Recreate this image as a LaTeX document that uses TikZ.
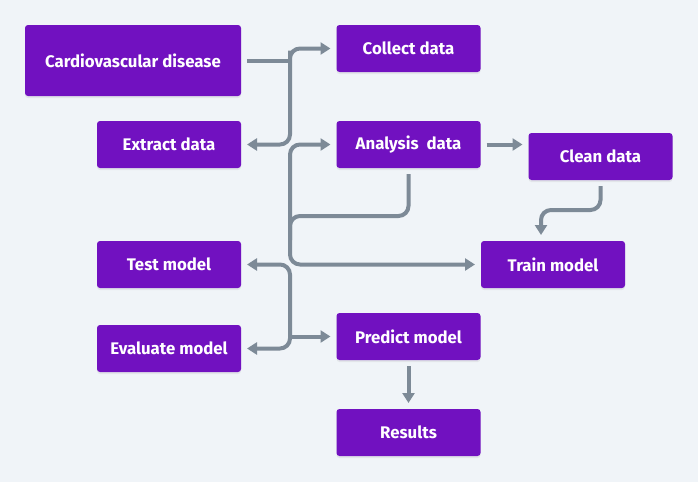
\documentclass[tikz,border=0pt]{standalone}
\usepackage{fontspec}
\setmainfont{Fira Sans}
\usetikzlibrary{arrows.meta,shadows}
\definecolor{bg}{HTML}{F0F4F8}
\definecolor{boxfill}{HTML}{7111C0}
\definecolor{linegray}{HTML}{7D8A97}

\begin{document}
\begin{tikzpicture}[x=1pt,y=-1pt,>={Triangle[length=10pt,width=12pt]},
	box/.style={fill=boxfill,rounded corners=3pt,inner sep=0,outer sep=0,minimum width=144pt,minimum height=47pt,text=white,font=\bfseries\fontsize{16.8}{20}\selectfont,drop shadow={opacity=0.12,shadow xshift=0pt,shadow yshift=-2pt}},
	conn/.style={draw=linegray,line width=4pt,rounded corners=10pt}]
	\fill[bg] (0,0) rectangle (698,482);
	% boxes
	\node[box,minimum width=216pt,minimum height=71pt] (cvd) at (133,60.5) {Cardiovascular disease};
	\node[box] (collect) at (408.5,48.5) {Collect data};
	\node[box] (extract) at (169,144.5) {Extract data};
	\node[box] (analysis) at (408.5,144.5) {Analysis~ data};
	\node[box] (clean) at (600.5,156.5) {Clean data};
	\node[box] (test) at (169,264.5) {Test model};
	\node[box] (train) at (553,264.5) {Train model};
	\node[box] (evaluate) at (169,348.5) {Evaluate model};
	\node[box] (predict) at (408.5,336.5) {Predict model};
	\node[box] (results) at (408.5,432.5) {Results};
	% junctions on the trunk
	\coordinate (j1) at (290,60.5);
	\coordinate (j2) at (290,216);
	\coordinate (j3) at (290,264.5);
	\coordinate (j4) at (290,240);
	\coordinate (j5) at (290,300);
	\coordinate (j6) at (290,336.5);
	\coordinate (k1) at (541,210);
	% connectors
	\draw[conn,shorten <=6pt] (cvd) -- (j1);
	\draw[conn,<->,shorten <=6pt,shorten >=6pt] (extract) -| (j1) |- (collect);
	\draw[conn,<->,shorten <=6pt,shorten >=6pt] (analysis) -| (j3) -- (train);
	\draw[conn,shorten <=6pt] (analysis) |- (j2) -- (j4);
	\draw[conn,<->,shorten <=6pt,shorten >=6pt] (test) -| (j5) |- (evaluate);
	\draw[conn,->,shorten >=6pt] (j6) -- (predict);
	\draw[conn,->,shorten <=6pt,shorten >=6pt] (analysis.east) -- (analysis.east -| clean.west);
	\draw[conn,->,shorten <=6pt,shorten >=6pt] (clean) |- (k1) -- (k1 |- train.north);
	\draw[conn,->,shorten <=6pt,shorten >=6pt] (predict) -- (results);
\end{tikzpicture}
\end{document}
